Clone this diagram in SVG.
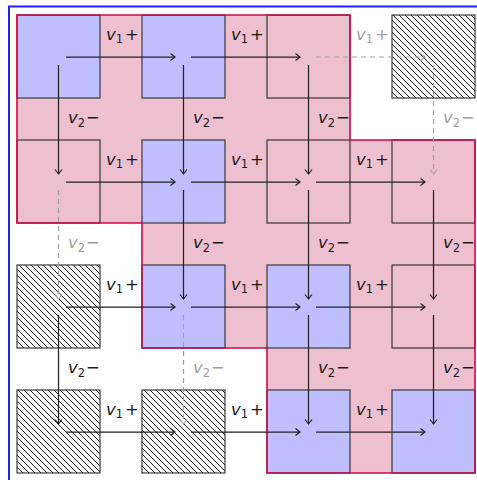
<svg xmlns="http://www.w3.org/2000/svg" width="477" height="480" viewBox="0 0 477 480">
<style>
.sq{fill:none;stroke:#3a3a3a;stroke-width:1.2}
.blue{fill:#bfbfff}
.hatch{fill:url(#nw);stroke:#3a3a3a;stroke-width:1.2}
.c{fill:none;stroke:#222;stroke-width:1.25;marker-end:url(#ah)}
.d{fill:none;stroke:#a0a0a0;stroke-width:1.2;stroke-dasharray:5 4;marker-end:url(#ahg)}
text{font-family:"DejaVu Sans",sans-serif;font-size:16.5px;fill:#1a1a1a}
text.g{fill:#a0a0a0}
.v{font-style:italic}
.s{font-size:11.5px}
</style>
<defs>
<pattern id="nw" patternUnits="userSpaceOnUse" width="6" height="6">
<rect width="6" height="6" fill="#fff"/>
<path d="M-1,-1 L7,7 M5,-1 L7,1 M-1,5 L1,7" stroke="#1a1a1a" stroke-width="1"/>
</pattern>
<marker id="ah" markerUnits="userSpaceOnUse" markerWidth="12" markerHeight="12" refX="0" refY="0" viewBox="-7 -6 9 12" orient="auto">
<path d="M-4.5,-3.5 Q-1,-0.8 0,0 Q-1,0.8 -4.5,3.5" fill="none" stroke="#222" stroke-width="1.2"/>
</marker>
<marker id="ahg" markerUnits="userSpaceOnUse" markerWidth="12" markerHeight="12" refX="0" refY="0" viewBox="-7 -6 9 12" orient="auto">
<path d="M-4.5,-3.5 Q-1,-0.8 0,0 Q-1,0.8 -4.5,3.5" fill="none" stroke="#a0a0a0" stroke-width="1.2"/>
</marker>
</defs>
<rect x="9" y="6.5" width="480" height="480" fill="#fff" stroke="#1f1fff" stroke-width="2"/>
<path id="region-fill" d="M17,15 H350 V140 H475 V473 H267 V348 H142 V223 H17 Z" fill="#eebfcf"/>
<g id="n00"><rect class="blue" x="17" y="15" width="83" height="83"/><rect class="sq" x="17" y="15" width="83" height="83"/></g>
<g id="n01"><rect class="blue" x="142" y="15" width="83" height="83"/><rect class="sq" x="142" y="15" width="83" height="83"/></g>
<g id="n02"><rect class="sq" x="267" y="15" width="83" height="83"/></g>
<g id="n03"><rect class="hatch" x="392" y="15" width="83" height="83"/></g>
<g id="n10"><rect class="sq" x="17" y="140" width="83" height="83"/></g>
<g id="n11"><rect class="blue" x="142" y="140" width="83" height="83"/><rect class="sq" x="142" y="140" width="83" height="83"/></g>
<g id="n12"><rect class="sq" x="267" y="140" width="83" height="83"/></g>
<g id="n13"><rect class="sq" x="392" y="140" width="83" height="83"/></g>
<g id="n20"><rect class="hatch" x="17" y="265" width="83" height="83"/></g>
<g id="n21"><rect class="blue" x="142" y="265" width="83" height="83"/><rect class="sq" x="142" y="265" width="83" height="83"/></g>
<g id="n22"><rect class="blue" x="267" y="265" width="83" height="83"/><rect class="sq" x="267" y="265" width="83" height="83"/></g>
<g id="n23"><rect class="sq" x="392" y="265" width="83" height="83"/></g>
<g id="n30"><rect class="hatch" x="17" y="390" width="83" height="83"/></g>
<g id="n31"><rect class="hatch" x="142" y="390" width="83" height="83"/></g>
<g id="n32"><rect class="blue" x="267" y="390" width="83" height="83"/><rect class="sq" x="267" y="390" width="83" height="83"/></g>
<g id="n33"><rect class="blue" x="392" y="390" width="83" height="83"/><rect class="sq" x="392" y="390" width="83" height="83"/></g>
<path id="region-outline" d="M17,15 H350 V140 H475 V473 H267 V348 H142 V223 H17 Z" fill="none" stroke="#cc0a4a" stroke-width="1.6"/>
<g id="connectors">
<path class="c" d="M66,57 H175"/>
<path class="c" d="M191,57 H300"/>
<path class="d" d="M316,57 H425"/>
<path class="c" d="M66,182 H175"/>
<path class="c" d="M191,182 H300"/>
<path class="c" d="M316,182 H425"/>
<path class="c" d="M66,307 H175"/>
<path class="c" d="M191,307 H300"/>
<path class="c" d="M316,307 H425"/>
<path class="c" d="M66,432 H175"/>
<path class="c" d="M191,432 H300"/>
<path class="c" d="M316,432 H425"/>
<path class="c" d="M58.5,65 V174"/>
<path class="d" d="M58.5,190 V299"/>
<path class="c" d="M58.5,315 V424"/>
<path class="c" d="M183.5,65 V174"/>
<path class="c" d="M183.5,190 V299"/>
<path class="d" d="M183.5,315 V424"/>
<path class="c" d="M308.5,65 V174"/>
<path class="c" d="M308.5,190 V299"/>
<path class="c" d="M308.5,315 V424"/>
<path class="d" d="M433.5,65 V174"/>
<path class="c" d="M433.5,190 V299"/>
<path class="c" d="M433.5,315 V424"/>
</g>
<g id="labels">
<text x="106" y="40"><tspan class="v">v</tspan><tspan class="s" dy="3">1</tspan><tspan dx="2" dy="-3">+</tspan></text>
<text x="231" y="40"><tspan class="v">v</tspan><tspan class="s" dy="3">1</tspan><tspan dx="2" dy="-3">+</tspan></text>
<text class="g" x="356" y="40"><tspan class="v">v</tspan><tspan class="s" dy="3">1</tspan><tspan dx="2" dy="-3">+</tspan></text>
<text x="106" y="165"><tspan class="v">v</tspan><tspan class="s" dy="3">1</tspan><tspan dx="2" dy="-3">+</tspan></text>
<text x="231" y="165"><tspan class="v">v</tspan><tspan class="s" dy="3">1</tspan><tspan dx="2" dy="-3">+</tspan></text>
<text x="356" y="165"><tspan class="v">v</tspan><tspan class="s" dy="3">1</tspan><tspan dx="2" dy="-3">+</tspan></text>
<text x="106" y="290"><tspan class="v">v</tspan><tspan class="s" dy="3">1</tspan><tspan dx="2" dy="-3">+</tspan></text>
<text x="231" y="290"><tspan class="v">v</tspan><tspan class="s" dy="3">1</tspan><tspan dx="2" dy="-3">+</tspan></text>
<text x="356" y="290"><tspan class="v">v</tspan><tspan class="s" dy="3">1</tspan><tspan dx="2" dy="-3">+</tspan></text>
<text x="106" y="415"><tspan class="v">v</tspan><tspan class="s" dy="3">1</tspan><tspan dx="2" dy="-3">+</tspan></text>
<text x="231" y="415"><tspan class="v">v</tspan><tspan class="s" dy="3">1</tspan><tspan dx="2" dy="-3">+</tspan></text>
<text x="356" y="415"><tspan class="v">v</tspan><tspan class="s" dy="3">1</tspan><tspan dx="2" dy="-3">+</tspan></text>
<text x="68" y="123"><tspan class="v">v</tspan><tspan class="s" dy="4">2</tspan><tspan dx="1" dy="-4">−</tspan></text>
<text class="g" x="68" y="248"><tspan class="v">v</tspan><tspan class="s" dy="4">2</tspan><tspan dx="1" dy="-4">−</tspan></text>
<text x="68" y="373"><tspan class="v">v</tspan><tspan class="s" dy="4">2</tspan><tspan dx="1" dy="-4">−</tspan></text>
<text x="193" y="123"><tspan class="v">v</tspan><tspan class="s" dy="4">2</tspan><tspan dx="1" dy="-4">−</tspan></text>
<text x="193" y="248"><tspan class="v">v</tspan><tspan class="s" dy="4">2</tspan><tspan dx="1" dy="-4">−</tspan></text>
<text class="g" x="193" y="373"><tspan class="v">v</tspan><tspan class="s" dy="4">2</tspan><tspan dx="1" dy="-4">−</tspan></text>
<text x="318" y="123"><tspan class="v">v</tspan><tspan class="s" dy="4">2</tspan><tspan dx="1" dy="-4">−</tspan></text>
<text x="318" y="248"><tspan class="v">v</tspan><tspan class="s" dy="4">2</tspan><tspan dx="1" dy="-4">−</tspan></text>
<text x="318" y="373"><tspan class="v">v</tspan><tspan class="s" dy="4">2</tspan><tspan dx="1" dy="-4">−</tspan></text>
<text class="g" x="443" y="123"><tspan class="v">v</tspan><tspan class="s" dy="4">2</tspan><tspan dx="1" dy="-4">−</tspan></text>
<text x="443" y="248"><tspan class="v">v</tspan><tspan class="s" dy="4">2</tspan><tspan dx="1" dy="-4">−</tspan></text>
<text x="443" y="373"><tspan class="v">v</tspan><tspan class="s" dy="4">2</tspan><tspan dx="1" dy="-4">−</tspan></text>
</g>
</svg>
